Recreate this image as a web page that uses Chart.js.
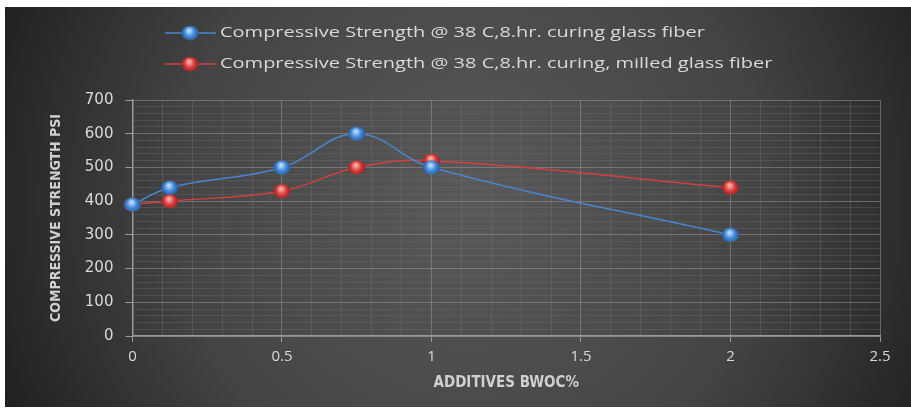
<!DOCTYPE html>
<html>
<head>
<meta charset="utf-8">
<script src="https://cdn.jsdelivr.net/npm/chart.js@4/dist/chart.umd.min.js"></script>
<style>
  html, body { margin: 0; padding: 0; background: #fff; }
  #wrap { position: relative; width: 911px; height: 412px; }
</style>
</head>
<body>
<div id="wrap"><canvas id="chart" width="911" height="412"></canvas></div>
<script>
// data
const additives = [0, 0.125, 0.5, 0.75, 1, 2];
const glassFiber = [390, 440, 500, 600, 500, 300];
const milledGlassFiber = [390, 400, 430, 500, 520, 440];
const seriesLabels = [
  'Compressive Strength @ 38 C,8.hr. curing glass fiber',
  'Compressive Strength @ 38 C,8.hr. curing, milled glass fiber'
];
const xTitle = 'ADDITIVES BWOC%';
const yTitle = 'COMPRESSIVE STRENGTH PSI';

const BLUE = '#4a86cf';
const RED = '#d24040';
const TITLE_FONT = '"Liberation Sans Narrow", "DejaVu Sans Condensed", sans-serif';

function makeBall(light, mid, dark) {
  const c = document.createElement('canvas');
  c.width = 18; c.height = 15;
  const g = c.getContext('2d');
  const grad = g.createRadialGradient(8, 5, 1, 9, 8, 10);
  grad.addColorStop(0, light);
  grad.addColorStop(0.45, mid);
  grad.addColorStop(1, dark);
  g.fillStyle = grad;
  g.beginPath();
  g.ellipse(9, 7.5, 8.5, 7, 0, 0, Math.PI * 2);
  g.fill();
  return c;
}
const blueBall = makeBall('#b9dcff', '#3f86d6', '#1d4f8c');
const redBall = makeBall('#ffb0a8', '#d83a3a', '#7e1a1a');

const isMajor = (v, step) => Math.abs(v / step - Math.round(v / step)) < 1e-6;

const backdrop = {
  id: 'backdrop',
  beforeDraw(chart) {
    const ctx = chart.ctx;
    ctx.save();
    ctx.fillStyle = '#fff';
    ctx.fillRect(0, 0, chart.width, chart.height);
    const g = ctx.createRadialGradient(470, 200, 20, 470, 200, 520);
    g.addColorStop(0, '#585858');
    g.addColorStop(0.55, '#444');
    g.addColorStop(1, '#1e1e1e');
    ctx.fillStyle = g;
    ctx.fillRect(5, 7, 906, 400);
    ctx.restore();
  }
};

// legend rows are drawn by hand so both start at the same x, like the original
const legendRows = {
  id: 'legendRows',
  afterDraw(chart) {
    const ctx = chart.ctx;
    const balls = [blueBall, redBall];
    const colors = [BLUE, RED];
    const rowsY = [33, 64];
    ctx.save();
    ctx.font = '15px "Open Sans"';
    const stretch = 485 / ctx.measureText(seriesLabels[0]).width;
    seriesLabels.forEach((label, i) => {
      const y = rowsY[i];
      ctx.strokeStyle = colors[i];
      ctx.lineWidth = 1.5;
      ctx.beginPath();
      ctx.moveTo(165, y);
      ctx.lineTo(216, y);
      ctx.stroke();
      ctx.drawImage(balls[i], 181, y - 7.5);
      ctx.save();
      ctx.translate(220, y);
      ctx.scale(stretch, 1);
      ctx.fillStyle = '#d9d9d9';
      ctx.textBaseline = 'middle';
      ctx.fillText(label, 0, 0);
      ctx.restore();
    });
    ctx.restore();
  }
};

new Chart(document.getElementById('chart'), {
  type: 'line',
  data: {
    datasets: [
      {
        label: seriesLabels[0],
        data: additives.map((x, i) => ({ x, y: glassFiber[i] })),
        borderColor: BLUE,
        borderWidth: 1.5,
        tension: 0.4,
        pointStyle: blueBall,
        clip: false,
        fill: false
      },
      {
        label: seriesLabels[1],
        data: additives.map((x, i) => ({ x, y: milledGlassFiber[i] })),
        borderColor: RED,
        borderWidth: 1.5,
        tension: 0.4,
        pointStyle: redBall,
        clip: false,
        fill: false
      }
    ]
  },
  options: {
    responsive: false,
    animation: false,
    layout: { padding: { top: 100, left: 44, right: 31, bottom: 16 } },
    plugins: { legend: { display: false }, tooltip: { enabled: false } },
    scales: {
      x: {
        type: 'linear',
        min: 0,
        max: 2.5,
        ticks: {
          stepSize: 0.1,
          autoSkip: false,
          maxRotation: 0,
          color: '#d9d9d9',
          font: { family: 'Open Sans', size: 15 },
          padding: 6,
          callback: v => isMajor(v, 0.5) ? String(Math.round(v * 10) / 10) : ''
        },
        grid: {
          color: c => isMajor(c.tick.value, 0.5) ? 'rgba(150,150,150,0.55)' : 'rgba(120,120,120,0.35)',
          tickColor: c => isMajor(c.tick.value, 0.5) ? '#9a9a9a' : 'rgba(0,0,0,0)',
          tickLength: 6
        },
        border: { color: '#9a9a9a', width: 1.5 },
        title: {
          display: true,
          text: xTitle,
          color: '#d0d0d0',
          font: { family: TITLE_FONT, size: 15, weight: 'bold' },
          padding: { top: 2 }
        }
      },
      y: {
        min: 0,
        max: 700,
        ticks: {
          stepSize: 20,
          autoSkip: false,
          color: '#d9d9d9',
          font: { family: 'DejaVu Sans', size: 15 },
          padding: 12,
          callback: v => isMajor(v, 100) ? String(v) : ''
        },
        grid: {
          color: c => isMajor(c.tick.value, 100) ? 'rgba(150,150,150,0.55)' : 'rgba(120,120,120,0.3)',
          tickColor: c => isMajor(c.tick.value, 100) ? '#9a9a9a' : 'rgba(0,0,0,0)',
          tickLength: 7
        },
        border: { color: '#9a9a9a', width: 1.5 },
        title: {
          display: true,
          text: yTitle,
          color: '#d0d0d0',
          font: { family: TITLE_FONT, size: 14, weight: 'bold' },
          padding: { bottom: 8 }
        }
      }
    }
  },
  plugins: [backdrop, legendRows]
});
</script>
</body>
</html>
